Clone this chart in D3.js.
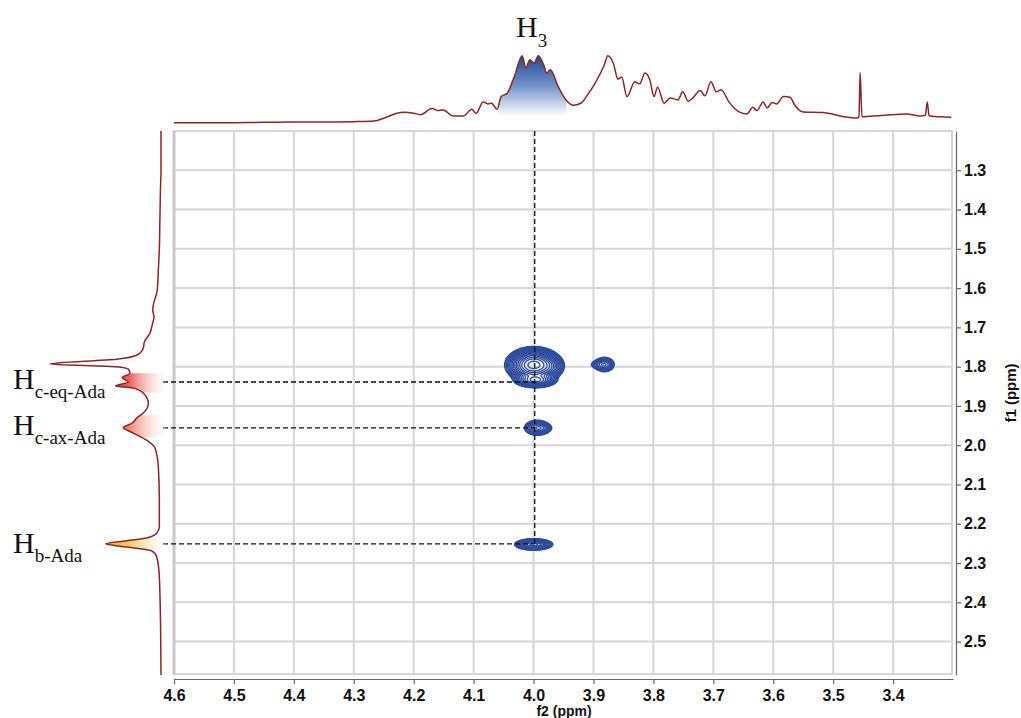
<!DOCTYPE html>
<html><head><meta charset="utf-8">
<script src="https://cdn.jsdelivr.net/npm/d3@7"></script>
<style>body{margin:0;background:#fff}</style>
</head><body><svg id="c" width="1021" height="718"></svg>
<script>
// ---- data ----
const f2Ticks = [4.6,4.5,4.4,4.3,4.2,4.1,4.0,3.9,3.8,3.7,3.6,3.5,3.4];
const f1Ticks = [1.3,1.4,1.5,1.6,1.7,1.8,1.9,2.0,2.1,2.2,2.3,2.4,2.5];
// top 1D projection: [ppm, intensity]
const topSpectrum = [[4.600,-1],[4.520,-1],[4.450,-0.5],[4.400,0],[4.350,0],[4.300,0.5],[4.266,1.5],[4.249,6],[4.228,13],[4.216,14.5],[4.200,13],[4.189,11],[4.169,20],[4.159,17],[4.151,18],[4.134,9],[4.117,9],[4.103,19],[4.096,13],[4.084,30],[4.076,27],[4.070,28],[4.061,19],[4.054,38],[4.044,43],[4.032,68],[4.019,99],[4.013,81],[4.006,93],[3.999,88],[3.992,99],[3.983,85],[3.978,73],[3.972,78],[3.959,53],[3.945,32],[3.934,25],[3.921,28],[3.908,43],[3.896,60],[3.882,85],[3.876,99],[3.867,88],[3.859,64],[3.853,67],[3.844,38],[3.831,60],[3.823,57],[3.814,73],[3.806,63],[3.799,38],[3.793,52],[3.782,28],[3.772,36],[3.759,33],[3.751,45],[3.742,31],[3.734,36],[3.722,47],[3.714,39],[3.704,60],[3.695,45],[3.687,48],[3.674,30],[3.657,15],[3.644,12],[3.634,22],[3.627,17],[3.617,30],[3.610,21],[3.602,29],[3.594,27],[3.583,38],[3.572,37],[3.564,25],[3.550,15],[3.517,14],[3.482,8],[3.461,6],[3.457,8],[3.455,74],[3.452,8],[3.448,8],[3.414,10],[3.377,12],[3.355,9],[3.346,10],[3.343,30],[3.340,10],[3.338,9],[3.303,7]];
// left 1D projection: [ppm, intensity]
const leftSpectrum = [[1.200,0],[1.300,0],[1.350,0.5],[1.427,1],[1.500,1.5],[1.554,2.4],[1.590,3],[1.613,3.9],[1.635,6.3],[1.656,7.5],[1.673,6.3],[1.695,8],[1.715,10],[1.737,15],[1.753,16],[1.771,22],[1.781,40],[1.793,100],[1.800,40],[1.806,29.5],[1.817,28],[1.828,35],[1.839,29.5],[1.849,41],[1.854,26],[1.867,16],[1.893,11.4],[1.918,16],[1.931,22],[1.944,26],[1.955,34],[1.969,25],[1.987,13],[2.007,5.4],[2.055,2.4],[2.140,1.5],[2.208,1.5],[2.224,3.9],[2.236,13],[2.243,31],[2.251,50],[2.259,31],[2.269,8.4],[2.284,3.9],[2.335,1.5],[2.478,0.3],[2.585,0]];
// 2D cross peaks
const peakF2     = [4.000, 3.997, 4.004, 3.972, 3.882, 3.893, 3.994, 3.985, 4.000];
const peakF1     = [1.795, 1.834, 1.768, 1.800, 1.794, 1.794, 1.955, 1.956, 2.252];
const peakAmp    = [60,    24,    3,     6,     8,     2,     10,    2.5,   35];
const peakSigF2  = [0.017, 0.014, 0.006, 0.010, 0.008, 0.008, 0.010, 0.008, 0.012];
const peakSigF1  = [0.0165,0.0075,0.006, 0.012, 0.009, 0.006, 0.009, 0.006, 0.0055];
const contourLevels = [1,1.3,1.69,2.2,2.86,3.71,4.83,6.27,8.16,10.6,13.8,17.9,23.3,30.3,39.4,51.2];
// assignments
const assignF1 = [1.839, 1.956, 2.251];
const assignSub = ["c-eq-Ada","c-ax-Ada","b-Ada"];
const assignColor = ["#e0302c","#ec6446","#f0bc2c"];
const assignBand = [[1.817,1.866],[1.924,1.980],[2.236,2.265]];
const crossF2 = 3.998;
const h3Band = [4.061, 3.945];

// ---- scales ----
const svg = d3.select('#c');
const x = d3.scaleLinear().domain([4.6, 3.3]).range([174, 953]);
const y = d3.scaleLinear().domain([1.2, 2.585]).range([131, 675]);
const topI = d3.scaleLinear().domain([0,100]).range([122, 55]);
const leftI = d3.scaleLinear().domain([0,100]).range([161, 50]);

const defs = svg.append('defs');

// ---- grid & frame ----
const grid = svg.append('g');
grid.selectAll('.vg').data(f2Ticks.slice(1)).join('line')
  .attr('x1', d=>x(d)).attr('x2', d=>x(d)).attr('y1', 131).attr('y2', 674)
  .attr('stroke', '#d6d6d6').attr('stroke-width', 2);
grid.selectAll('.hg').data(f1Ticks).join('line')
  .attr('x1', 174).attr('x2', 952).attr('y1', d=>y(d)).attr('y2', d=>y(d))
  .attr('stroke', '#d6d6d6').attr('stroke-width', 2);
grid.append('rect').attr('x',174).attr('y',131).attr('width',778).attr('height',543)
  .attr('fill','none').attr('stroke','#d6d6d6').attr('stroke-width',2);
grid.append('line').attr('x1',174).attr('x2',174).attr('y1',131).attr('y2',674)
  .attr('stroke','#c8c8c8').attr('stroke-width',3);

// ---- axes ----
const f2Minor = f2Ticks.map(t=>+(t-0.05).toFixed(2)).filter(t=>t>3.3);
const f1Minor = [1.25].concat(f1Ticks.map(t=>+(t+0.05).toFixed(2))).filter(t=>t<2.585);
const bx = svg.append('g').attr('transform','translate(0,679)');
bx.call(d3.axisBottom(x).tickValues(f2Minor).tickSize(3).tickSizeOuter(0).tickFormat(''));
bx.call(d3.axisBottom(x).tickValues(f2Ticks).tickSize(5).tickSizeOuter(0).tickPadding(3).tickFormat(d3.format('.1f')));
const ry = svg.append('g').attr('transform','translate(956,0)');
ry.call(d3.axisRight(y).tickValues(f1Minor).tickSize(3).tickSizeOuter(0).tickFormat(''));
ry.call(d3.axisRight(y).tickValues(f1Ticks).tickSize(5).tickSizeOuter(0).tickPadding(3).tickFormat(d3.format('.1f')));
svg.selectAll('.domain, .tick line').attr('stroke','#666').attr('stroke-width',1.2);
svg.selectAll('.tick text').attr('font-family','Liberation Sans, Arial, sans-serif')
  .attr('font-weight','bold').attr('font-size',16).attr('fill','#111');
bx.selectAll('.tick text').attr('dy','0.85em');

svg.append('text').attr('x',564).attr('y',716).attr('text-anchor','middle')
  .attr('font-family','Liberation Sans, Arial, sans-serif').attr('font-weight','bold')
  .attr('font-size',14).attr('fill','#111').text('f2 (ppm)');
svg.append('text').attr('transform','translate(1016,393) rotate(-90)').attr('text-anchor','middle')
  .attr('font-family','Liberation Sans, Arial, sans-serif').attr('font-weight','bold')
  .attr('font-size',15).attr('fill','#111').text('f1 (ppm)');

// ---- contours ----
const g0 = 4.09, g1 = 3.84, h0 = 1.72, h1 = 2.31;
const stepX = 0.0007, stepY = 0.0011;
const nx = Math.round((g0-g1)/stepX), ny = Math.round((h1-h0)/stepY);
const values = new Float64Array(nx*ny);
for (let j=0;j<ny;j++){
  const f1v = h0 + j*stepY;
  for (let i=0;i<nx;i++){
    const f2v = g0 - i*stepX;
    let s = 0;
    for (let k=0;k<peakAmp.length;k++){
      const dx=(f2v-peakF2[k])/peakSigF2[k], dy=(f1v-peakF1[k])/peakSigF1[k];
      s += peakAmp[k]*Math.exp(-0.5*(dx*dx+dy*dy));
    }
    values[j*nx+i]=s;
  }
}
const contours = d3.contours().size([nx,ny]).thresholds(contourLevels)(values);
const proj = d3.geoTransform({point(px,py){ this.stream.point(x(g0-px*stepX), y(h0+py*stepY)); }});
svg.append('g').selectAll('path').data(contours).join('path')
  .attr('d', d3.geoPath(proj)).attr('fill','none')
  .attr('stroke','#2f4c9c').attr('stroke-width',1.4);

// ---- dashed assignment lines ----
const dash = svg.append('g').attr('stroke','#111').attr('stroke-width',1.3).attr('stroke-dasharray','5,3');
dash.append('line').attr('x1',x(crossF2)).attr('x2',x(crossF2)).attr('y1',131).attr('y2',y(assignF1[2]));
dash.selectAll('.hd').data(assignF1).join('line')
  .attr('x1',163).attr('x2',x(crossF2)).attr('y1',d=>y(d)).attr('y2',d=>y(d));

// ---- top spectrum ----
const gradT = defs.append('linearGradient').attr('id','gt').attr('gradientUnits','userSpaceOnUse')
  .attr('x1',0).attr('x2',0).attr('y1',55).attr('y2',116);
gradT.append('stop').attr('offset',0).attr('stop-color','#24468f');
gradT.append('stop').attr('offset',0.5).attr('stop-color','#6f93c8');
gradT.append('stop').attr('offset',1).attr('stop-color','#ffffff');
defs.append('clipPath').attr('id','ct').append('rect')
  .attr('x',x(h3Band[0])).attr('y',0).attr('width',x(h3Band[1])-x(h3Band[0])).attr('height',130);
svg.append('path').datum(topSpectrum)
  .attr('d', d3.area().x(d=>x(d[0])).y0(116).y1(d=>topI(d[1])).curve(d3.curveMonotoneX))
  .attr('fill','url(#gt)').attr('clip-path','url(#ct)');
svg.append('path').datum(topSpectrum)
  .attr('d', d3.line().x(d=>x(d[0])).y(d=>topI(d[1])).curve(d3.curveMonotoneX))
  .attr('fill','none').attr('stroke','#8e2424').attr('stroke-width',1.5);

// ---- left spectrum ----
assignBand.forEach((b,i)=>{
  const gr = defs.append('linearGradient').attr('id','gl'+i).attr('gradientUnits','userSpaceOnUse')
    .attr('x1',100).attr('x2',166).attr('y1',0).attr('y2',0);
  gr.append('stop').attr('offset',0).attr('stop-color',assignColor[i]);
  gr.append('stop').attr('offset',0.45).attr('stop-color',assignColor[i]).attr('stop-opacity',0.75);
  gr.append('stop').attr('offset',1).attr('stop-color','#ffffff').attr('stop-opacity',0.2);
  defs.append('clipPath').attr('id','cl'+i).append('rect')
    .attr('x',0).attr('y',y(b[0])).attr('width',170).attr('height',y(b[1])-y(b[0]));
  svg.append('path').datum(leftSpectrum)
    .attr('d', d3.area().y(d=>y(d[0])).x0(166).x1(d=>leftI(d[1])).curve(d3.curveMonotoneY))
    .attr('fill','url(#gl'+i+')').attr('clip-path','url(#cl'+i+')');
});
svg.append('path').datum(leftSpectrum)
  .attr('d', d3.line().y(d=>y(d[0])).x(d=>leftI(d[1])).curve(d3.curveMonotoneY))
  .attr('fill','none').attr('stroke','#8e2424').attr('stroke-width',1.5);

// ---- labels ----
const serif = 'Liberation Serif, Times New Roman, serif';
const t3 = svg.append('text').attr('x',516).attr('y',37).attr('font-family',serif).attr('fill','#111');
t3.append('tspan').attr('font-size',30).text('H');
t3.append('tspan').attr('font-size',19).attr('dy',10).text('3');
assignF1.forEach((f,i)=>{
  const t = svg.append('text').attr('x',13).attr('y',y(f)+7 + (i===2?2:0)).attr('font-family',serif).attr('fill','#111');
  t.append('tspan').attr('font-size',30).text('H');
  t.append('tspan').attr('font-size',19).attr('dy',9).text(assignSub[i]);
});
</script></body></html>
